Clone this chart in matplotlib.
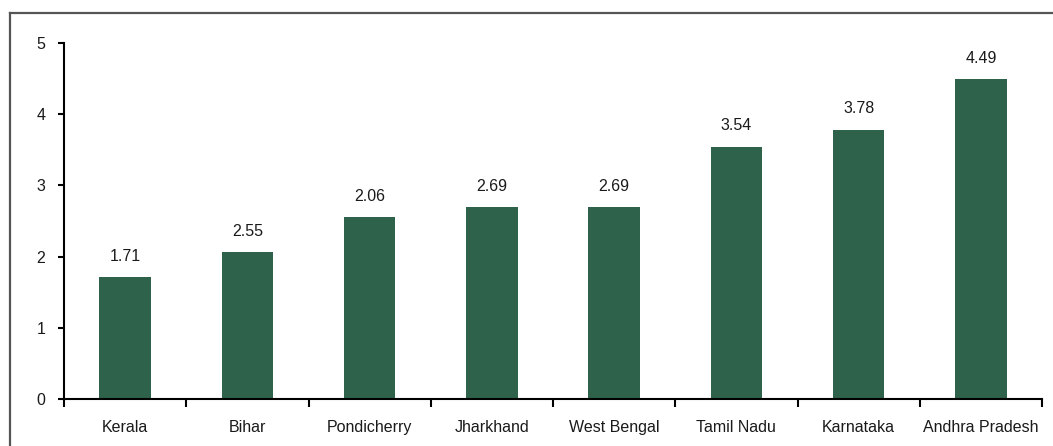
import matplotlib
matplotlib.use("Agg")
import matplotlib.pyplot as plt
from matplotlib.lines import Line2D

plt.rcParams['font.family'] = ['Liberation Sans', 'DejaVu Sans']
fs = 11.5

states = ["Kerala", "Bihar", "Pondicherry", "Jharkhand", "West Bengal",
          "Tamil Nadu", "Karnataka", "Andhra Pradesh"]
bar_values = [1.71, 2.06, 2.55, 2.69, 2.69, 3.54, 3.78, 4.49]
bar_labels = ["1.71", "2.55", "2.06", "2.69", "2.69", "3.54", "3.78", "4.49"]
y_ticks = [0, 1, 2, 3, 4, 5]

W, H = 1053, 446
fig = plt.figure(figsize=(W / 100, H / 100), dpi=100)
ax = fig.add_axes([64 / W, 1 - 399 / H, (1042 - 64) / W, (399 - 43) / H])

bar_color = '#2E624B'
text_color = '#1a1a1a'
x = list(range(len(states)))
ax.bar(x, bar_values, width=0.42, color=bar_color, zorder=2)

for xi, v, lab in zip(x, bar_values, bar_labels):
    ax.annotate(lab, (xi, v), xytext=(0, 12), textcoords='offset points',
                ha='center', va='baseline', fontsize=fs, color=text_color)

ax.set_xlim(-0.5, len(states) - 0.5)
ax.set_ylim(0, 5)
ax.set_yticks(y_ticks)
ax.set_yticklabels([str(t) for t in y_ticks], fontsize=fs, color=text_color)

ax.set_xticks([i - 0.5 for i in range(len(states) + 1)])
ax.set_xticklabels([])
ax.set_xticks(x, minor=True)
ax.set_xticklabels(states, minor=True, fontsize=fs, color=text_color)
for lab in ax.get_xticklabels(minor=True):
    lab.set_verticalalignment('baseline')
ax.tick_params(axis='x', which='major', direction='out', length=6, width=1.5, color='black')
ax.tick_params(axis='x', which='minor', length=0, pad=24)
ax.tick_params(axis='y', direction='out', length=4.5, width=1.5, color='black', pad=9)

for s in ['top', 'right']:
    ax.spines[s].set_visible(False)
for s in ['left', 'bottom']:
    ax.spines[s].set_linewidth(1.5)
    ax.spines[s].set_color('black')

# outer frame (top and left only)
fig.add_artist(Line2D([10 / W, 1.0], [1 - 13 / H, 1 - 13 / H], transform=fig.transFigure,
                      color='#555555', linewidth=1.6))
fig.add_artist(Line2D([10 / W, 10 / W], [0, 1 - 13 / H], transform=fig.transFigure,
                      color='#555555', linewidth=1.6))

fig.savefig("out.png", dpi=100)
